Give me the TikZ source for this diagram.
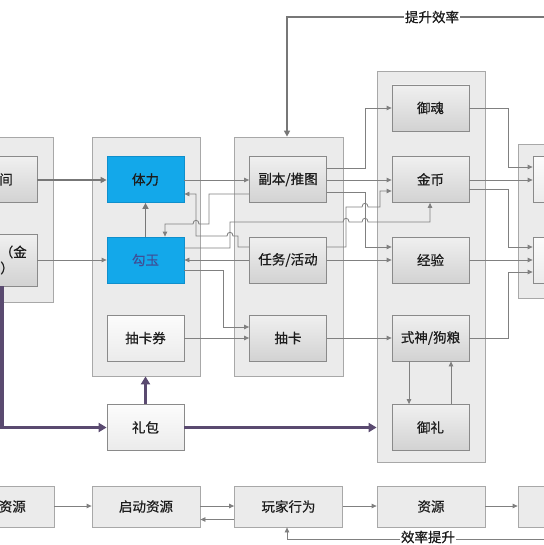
\documentclass[tikz,border=0pt]{standalone}
\usepackage{fontspec}
\setmainfont{Noto Sans CJK SC}[FakeBold=0.6]
\usetikzlibrary{arrows.meta,calc}
\definecolor{grpfill}{HTML}{EBEBEB}
\definecolor{grpline}{HTML}{A8A8A8}
\definecolor{boxline}{HTML}{8A8A8A}
\definecolor{boxtop}{HTML}{F0F0F0}
\definecolor{boxbot}{HTML}{D2D2D2}
\definecolor{wtop}{HTML}{FCFCFC}
\definecolor{wbot}{HTML}{EBEBEB}
\definecolor{bluefill}{HTML}{13A8EA}
\definecolor{blueline}{HTML}{0F8FCC}
\definecolor{conn}{HTML}{808080}
\definecolor{connd}{HTML}{777777}
\definecolor{purp}{HTML}{5A4A70}
\definecolor{txt}{HTML}{1C1C1C}
\definecolor{gytxt}{HTML}{3F4E96}
\begin{document}
\begin{tikzpicture}[x=1pt,y=-1pt,
  font=\fontsize{13.5}{15}\selectfont,
  grp/.style={draw=grpline, fill=grpfill, line width=0.8pt, inner sep=0pt},
  box/.style={draw=boxline, line width=0.8pt, top color=boxtop, bottom color=boxbot, minimum width=77pt, minimum height=46pt, inner sep=0pt, text=txt},
  wbox/.style={box, top color=wtop, bottom color=wbot},
  bbox/.style={draw=blueline, fill=bluefill, line width=0.8pt, minimum width=77pt, minimum height=46pt, inner sep=0pt, text=txt},
  bot/.style={draw=grpline, fill=grpfill, line width=0.8pt, minimum width=108pt, minimum height=41pt, inner sep=0pt, text=txt},
  thinarr/.style={draw=conn, line width=0.8pt, -{Triangle[length=5pt,width=4.5pt]}},
  thickarr/.style={draw=connd, line width=1.7pt, -{Triangle[length=6pt,width=6pt]}},
  purarr/.style={draw=purp, line width=3.4pt, -{Triangle[length=8pt,width=9pt]}},
  lbl/.style={fill=white, inner sep=1pt, text=txt},
  ptxt/.style={inner sep=0pt, text=txt}
]
\useasboundingbox (0,0) rectangle (543,545);
\fill[white] (0,0) rectangle (543,545);

% groups
\node[grp, minimum width=113pt, minimum height=165pt] (g1) at (-3.5,219.5) {};
\node[grp, minimum width=108pt, minimum height=239pt] (g2) at (146,256.5) {};
\node[grp, minimum width=109pt, minimum height=239pt] (g3) at (288.5,256.5) {};
\node[grp, minimum width=108pt, minimum height=391pt] (g4) at (431,266.5) {};
\node[grp, minimum width=100pt, minimum height=154pt] (g5) at (568,221) {};

% inner boxes
\node[box] (l1) at (-1.5,179.5) {};
\node[box, minimum height=52pt] (l2) at (-1.5,260) {};
\node[ptxt, anchor=east] (l1t) at (13,179.5) {间};
\node[ptxt, anchor=east] (l2a) at (27,252) {（金};
\node[ptxt, anchor=east] (l2b) at (14,268) {）};
\node[bbox] (tili) at (145.5,179.5) {体力};
\node[bbox, text=gytxt] (gouyu) at (145.5,260) {勾玉};
\node[wbox] (quan) at (145.5,338) {抽卡券};
\node[box] (fuben) at (288,179.5) {副本/推图};
\node[box] (renwu) at (288,260) {任务/活动};
\node[box] (chouka) at (288,338) {抽卡};
\node[box] (yuhun) at (430.5,108) {御魂};
\node[box] (jinbi) at (430.5,179.5) {金币};
\node[box] (jingyan) at (430.5,260) {经验};
\node[box] (shishen) at (430.5,338) {式神/狗粮};
\node[box] (yuli) at (430.5,427.5) {御礼};
\node[wbox] (libao) at (145.5,427.5) {礼包};
\node[wbox, minimum width=80pt] (r1) at (573,179.5) {};
\node[wbox, minimum width=80pt] (r2) at (573,260) {};

% bottom row
\node[bot] (b0) at (0,506.5) {};
\node[ptxt, anchor=east] (b0t) at (26,506.5) {资源};
\node[bot] (qidong) at (146,506.5) {启动资源};
\node[bot] (wanjia) at (288.5,506.5) {玩家行为};
\node[bot] (ziyuan) at (431,506.5) {资源};
\node[bot] (b4) at (572,506.5) {};

% left connectors
\draw[thickarr] (l1.east |- 0,180) -- (tili.west |- 0,180);
\draw[thinarr] (l2.east |- 0,260) -- (gouyu.west |- 0,260);
\draw[thickarr] (gouyu.north) -- (tili.south);

% purple
\draw[purarr] (l2.south -| 2,0) -- (2,427.5) -- (libao.west);
\draw[purarr] (libao.north) -- (libao.north |- g2.south);
\draw[purarr] (libao.east) -- (libao.east -| g4.west);

% group 2 <-> group 3
\draw[thinarr] (tili.east |- 0,180) -- (fuben.west |- 0,180);
\draw[thinarr] (renwu.west |- 0,247) -- (238,247) -- (238,236) -- (233,236)
  .. controls (233,231) and (227,231) .. (227,236) -- (196,236) -- (196,194) -- (tili.east |- 0,194);
\draw[thinarr] (fuben.west |- 0,194) -- (209,194) -- (209,224) -- (199,224)
  .. controls (199,219) and (193,219) .. (193,224) -- (165,224) -- (gouyu.north -| 165,0);
\draw[thinarr] (renwu.west |- 0,260) -- (gouyu.east |- 0,260);
\draw[thinarr] (gouyu.east |- 0,248) -- (230,248) -- (230,222) -- (343,222)
  .. controls (343,217) and (349,217) .. (349,222) -- (362,222)
  .. controls (362,217) and (368,217) .. (368,222) -- (430,222) -- (jinbi.south -| 430,0);
\draw[thinarr] (gouyu.east |- 0,270) -- (223,270) -- (223,327) -- (chouka.west |- 0,327);
\draw[thinarr] (quan.east |- 0,338) -- (chouka.west |- 0,338);

% group 3 -> group 4
\draw[thinarr] (fuben.east |- 0,168) -- (365,168) -- (365,108) -- (yuhun.west |- 0,108);
\draw[thinarr] (fuben.east |- 0,180) -- (jinbi.west |- 0,180);
\draw[thinarr] (fuben.east |- 0,192) -- (365,192) -- (365,247) -- (jingyan.west |- 0,247);
\draw[thinarr] (renwu.east |- 0,247) -- (346,247) -- (346,207) -- (362,207)
  .. controls (362,202) and (368,202) .. (368,207) -- (380,207) -- (380,191) -- (jinbi.west |- 0,191);
\draw[thinarr] (renwu.east |- 0,260) -- (jingyan.west |- 0,260);
\draw[thinarr] (chouka.east |- 0,338) -- (shishen.west |- 0,338);

% group 4 -> right
\draw[thinarr] (yuhun.east |- 0,108) -- (508,108) -- (508,167) -- (r1.west |- 0,167);
\draw[thinarr] (jinbi.east |- 0,180) -- (r1.west |- 0,180);
\draw[thinarr] (jinbi.east |- 0,189) -- (508,189) -- (508,247) -- (r2.west |- 0,247);
\draw[thinarr] (jingyan.east |- 0,260) -- (r2.west |- 0,260);
\draw[thinarr] (shishen.east |- 0,338) -- (508,338) -- (508,272) -- (r2.west |- 0,272);
\draw[thinarr] (shishen.south -| 409,0) -- (yuli.north -| 409,0);
\draw[thinarr] (yuli.north -| 451,0) -- (shishen.south -| 451,0);

% top feedback
\coordinate (topR) at (548,17);
\draw[thickarr, line width=1.4pt] (topR) -- (287,17) -- (g3.north -| 287,0);
\node[lbl] (tisheng) at (432,17) {提升效率};

% bottom row connectors
\draw[thinarr] (b0.east |- 0,506) -- (qidong.west |- 0,506);
\draw[thinarr] (qidong.east |- 0,506) -- (wanjia.west |- 0,506);
\draw[thinarr] (wanjia.west |- 0,519.5) -- (qidong.east |- 0,519.5);
\draw[thinarr] (wanjia.east |- 0,506) -- (ziyuan.west |- 0,506);
\draw[thinarr] (ziyuan.east |- 0,506) -- (b4.west |- 0,506);
\coordinate (botR) at (548,539);
\draw[thinarr] (botR) -- (287,539) -- (wanjia.south -| 287,0);
\node[lbl] (xiaolv) at (428,537) {效率提升};
\end{tikzpicture}
\end{document}
